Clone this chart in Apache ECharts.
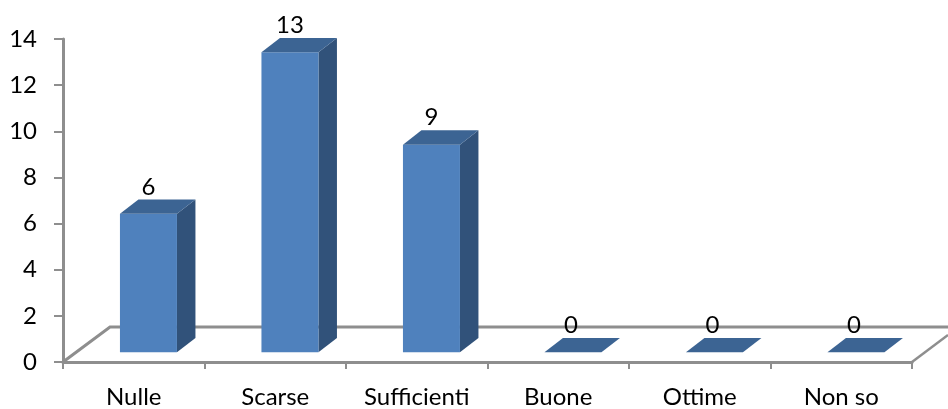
<!DOCTYPE html>
<html>
<head>
<meta charset="utf-8">
<style>html,body{margin:0;padding:0;background:#fff}#c{width:948px;height:409px}</style>
<script src="https://cdn.jsdelivr.net/npm/echarts@6/dist/echarts.min.js"></script>
</head>
<body>
<div id="c"></div>
<script>
const categories = ['Nulle', 'Scarse', 'Sufficienti', 'Buone', 'Ottime', 'Non so'];
const values = [6, 13, 9, 0, 0, 0];
const yMin = 0, yMax = 14, yStep = 2;

const FONT = 'Lato, Carlito, sans-serif';
const AXIS = '#8e8e8e';
const FRONT = '#4f81bd', TOP = '#3c6493', SIDE = '#31527a';
const DX = 18.5, DY = 14.3, LIFT = 9.7, SHIFT = 14.7, BAR_W = 57;

const chart = echarts.init(document.getElementById('c'), null, {renderer: 'canvas'});
chart.setOption({
  animation: false,
  backgroundColor: '#fff',
  grid: {left: 63, right: 36, top: 39, bottom: 47},
  xAxis: {
    type: 'category', data: categories,
    axisLine: {lineStyle: {color: AXIS, width: 3}},
    axisTick: {show: true, alignWithLabel: false, length: 7, lineStyle: {color: AXIS, width: 2}},
    axisLabel: {color: '#000', fontFamily: FONT, fontSize: 24, margin: 23, interval: 0},
    splitLine: {show: false}
  },
  yAxis: {
    type: 'value', min: yMin, max: yMax, interval: yStep,
    axisLine: {show: true, lineStyle: {color: AXIS, width: 3}},
    axisTick: {show: true, length: 9, lineStyle: {color: AXIS, width: 2}},
    axisLabel: {color: '#000', fontFamily: FONT, fontSize: 24, margin: 26},
    splitLine: {show: false}
  },
  series: [
    {
      type: 'custom', z: 1, silent: true,
      data: [[0]],
      clip: false,
      renderItem(params, api) {
        const size = api.size([1, 0])[0];
        const o = api.coord([0, 0]);
        const e = api.coord([categories.length - 1, 0]);
        const left = o[0] - size / 2, right = e[0] + size / 2, y = o[1];
        const bx = left + 47, by = y - 35;
        return {
          type: 'group',
          children: [
            {type: 'polyline', shape: {points: [[left, y], [bx, by], [948, by]]},
             style: {stroke: AXIS, lineWidth: 3, fill: null}},
            {type: 'line', shape: {x1: right, y1: y, x2: right + 36, y2: y - 27},
             style: {stroke: AXIS, lineWidth: 2.5}},
            {type: 'line', shape: {x1: right, y1: y, x2: right, y2: y + 7},
             style: {stroke: AXIS, lineWidth: 2}}
          ]
        };
      }
    },
    {
      type: 'custom', z: 2, silent: true,
      data: values.map((v, i) => [i, v]),
      encode: {x: 0, y: 1},
      clip: false,
      renderItem(params, api) {
        const i = api.value(0), v = api.value(1);
        const top = api.coord([i, v]), base = api.coord([i, 0]);
        const cx = top[0] + SHIFT;
        const l = cx - BAR_W / 2, r = cx + BAR_W / 2;
        const yb = base[1] - LIFT, yt = top[1] - LIFT;
        const kids = [];
        if (v > 0) {
          kids.push({type: 'polygon', shape: {points: [[r, yt], [r + DX, yt - DY], [r + DX, yb - DY], [r, yb]]},
            style: {fill: SIDE}});
          kids.push({type: 'rect', shape: {x: l, y: yt, width: BAR_W, height: yb - yt},
            style: {fill: FRONT}});
        }
        kids.push({type: 'polygon', shape: {points: [[l, yt], [l + DX, yt - DY], [r + DX, yt - DY], [r, yt]]},
          style: {fill: TOP}});
        kids.push({type: 'text', style: {
          x: cx - (v > 0 ? 0 : 2), y: yt - 27, text: String(v), fill: '#000', font: '24px ' + FONT,
          align: 'center', verticalAlign: 'middle'}});
        return {type: 'group', children: kids};
      }
    }
  ]
});
</script>
</body>
</html>
